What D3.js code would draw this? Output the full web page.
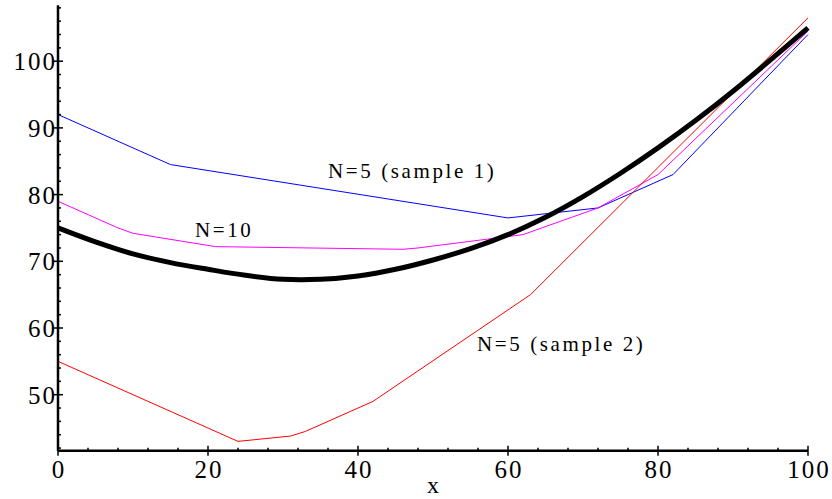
<!DOCTYPE html>
<html><head><meta charset="utf-8">
<script src="https://cdn.jsdelivr.net/npm/d3@7"></script>
<style>body{margin:0;background:#fff}text{font-family:"Liberation Serif",serif}</style>
</head><body><div id="chart"></div>
<script>
var blackX = [0, 5, 10, 15, 20, 25, 30, 35, 40, 45, 50, 55, 60, 65, 70, 75, 80, 85, 90, 95, 100];
var blackY = [75, 72.9, 71.1, 69.8, 68.8, 67.9, 67.3, 67.3, 67.8, 68.8, 70.2, 71.9, 74, 76.6, 79.7, 83.2, 87, 91.1, 95.5, 100.2, 105];
var blueX = [0, 15, 60, 72, 82, 100];
var blueY = [92, 84.5, 76.5, 78, 83, 104];
var magX = [0, 8, 10, 21, 46, 48, 62, 72, 80, 100];
var magY = [79, 75, 74.2, 72.2, 71.8, 72, 74, 78, 83, 104.5];
var redX = [0, 24, 31, 33, 39, 42, 63, 100];
var redY = [55, 43, 43.8, 44.5, 47.5, 49, 65, 106.5];
var xTicks = [0, 20, 40, 60, 80, 100];
var yTicks = [50, 60, 70, 80, 90, 100];

var w = 832, h = 499;
var svg = d3.select("#chart").append("svg").attr("width", w).attr("height", h);
var x = d3.scaleLinear().domain([0, 100]).range([58, 808]);
var y = d3.scaleLinear().domain([50, 100]).range([394.7, 61.2]);
var yBase = 41.6, yTop = 108.4;

function zip(xs, ys){ return xs.map(function(d, i){ return [d, ys[i]]; }); }
var line = d3.line().x(function(d){ return x(d[0]); }).y(function(d){ return y(d[1]); });

svg.append("path").datum(zip(blueX, blueY)).attr("d", line).attr("fill", "none").attr("stroke", "#0000ff").attr("stroke-width", 1);
svg.append("path").datum(zip(magX, magY)).attr("d", line).attr("fill", "none").attr("stroke", "#ff00ff").attr("stroke-width", 1);
svg.append("path").datum(zip(redX, redY)).attr("d", line).attr("fill", "none").attr("stroke", "#ff0000").attr("stroke-width", 1);
svg.append("path").datum(zip(blackX, blackY)).attr("d", line.curve(d3.curveCatmullRom)).attr("fill", "none").attr("stroke", "#000").attr("stroke-width", 5);

// axes
var ax = svg.append("g").attr("stroke", "#000");
ax.append("line").attr("x1", x(0)).attr("x2", x(100)).attr("y1", y(yBase)).attr("y2", y(yBase)).attr("stroke-width", 2.5);
ax.append("line").attr("x1", x(0)).attr("x2", x(0)).attr("y1", y(yBase)).attr("y2", y(yTop)).attr("stroke-width", 2.5);
d3.range(0, 101, 4).forEach(function(v){
  var major = v % 20 === 0;
  ax.append("line").attr("x1", x(v)).attr("x2", x(v)).attr("y1", y(yBase) - (major ? 5 : 3)).attr("y2", y(yBase) + (major ? 5 : 0)).attr("stroke-width", 1.5);
});
d3.range(42, 108.1, 2).forEach(function(v){
  var major = v % 10 === 0;
  ax.append("line").attr("x1", x(0) - (major ? 5 : 0)).attr("x2", x(0) + (major ? 5 : 3)).attr("y1", y(v)).attr("y2", y(v)).attr("stroke-width", 1.5);
});
svg.selectAll(".xt").data(xTicks).enter().append("text").attr("x", function(d){ return x(d) + 1; }).attr("y", 478)
  .attr("text-anchor", "middle").attr("font-size", 25).attr("letter-spacing", 2).text(function(d){ return d; });
svg.selectAll(".yt").data(yTicks).enter().append("text").attr("x", x(0) - 1).attr("y", function(d){ return y(d) + 9; })
  .attr("text-anchor", "end").attr("font-size", 25).attr("letter-spacing", 2).text(function(d){ return d; });
svg.append("text").attr("x", 433).attr("y", 493).attr("text-anchor", "middle").attr("font-size", 24).text("x");

var labels = [["N=5 (sample 1)", 328, 178], ["N=10", 195, 237], ["N=5 (sample 2)", 477, 351]];
svg.selectAll(".lb").data(labels).enter().append("text").attr("x", function(d){ return d[1]; }).attr("y", function(d){ return d[2]; })
  .attr("font-size", 21).attr("letter-spacing", 2.6).text(function(d){ return d[0]; });
</script></body></html>
